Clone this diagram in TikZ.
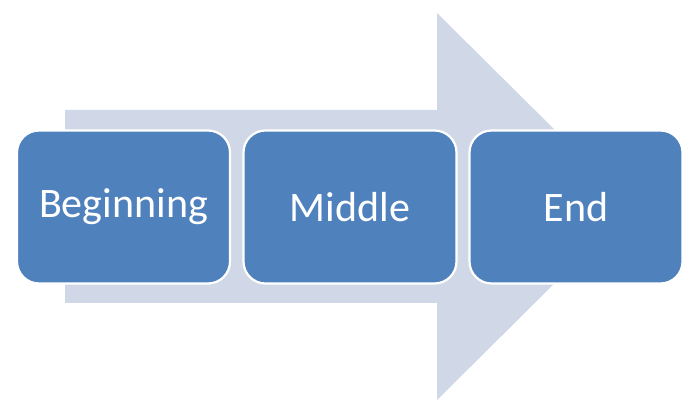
\documentclass[tikz,border=0pt]{standalone}
\usepackage{fontspec}
\setmainfont{Carlito}
\definecolor{boxblue}{HTML}{4F81BD}
\definecolor{arrowgray}{HTML}{D0D8E7}
\begin{document}
\begin{tikzpicture}[x=1pt,y=-1pt,
  stagebox/.style={draw=white, line width=2.2pt, fill=boxblue, rounded corners=22pt,
    minimum width=213pt, minimum height=153pt, inner sep=0pt,
    text=white, font=\fontsize{42}{50}\selectfont}]
\useasboundingbox (0,0) rectangle (696,411);
% big background arrow
\fill[arrowgray] (65,110) -- (437,110) -- (437,13) -- (632,206.5) -- (437,400) -- (437,303) -- (65,303) -- cycle;
% stage boxes
\node[stagebox] (beg) at (123.5,207) {Beginning};
\node[stagebox] (mid) at (350,207) {Middle};
\node[stagebox] (end) at (576,207) {End};
\end{tikzpicture}
\end{document}
